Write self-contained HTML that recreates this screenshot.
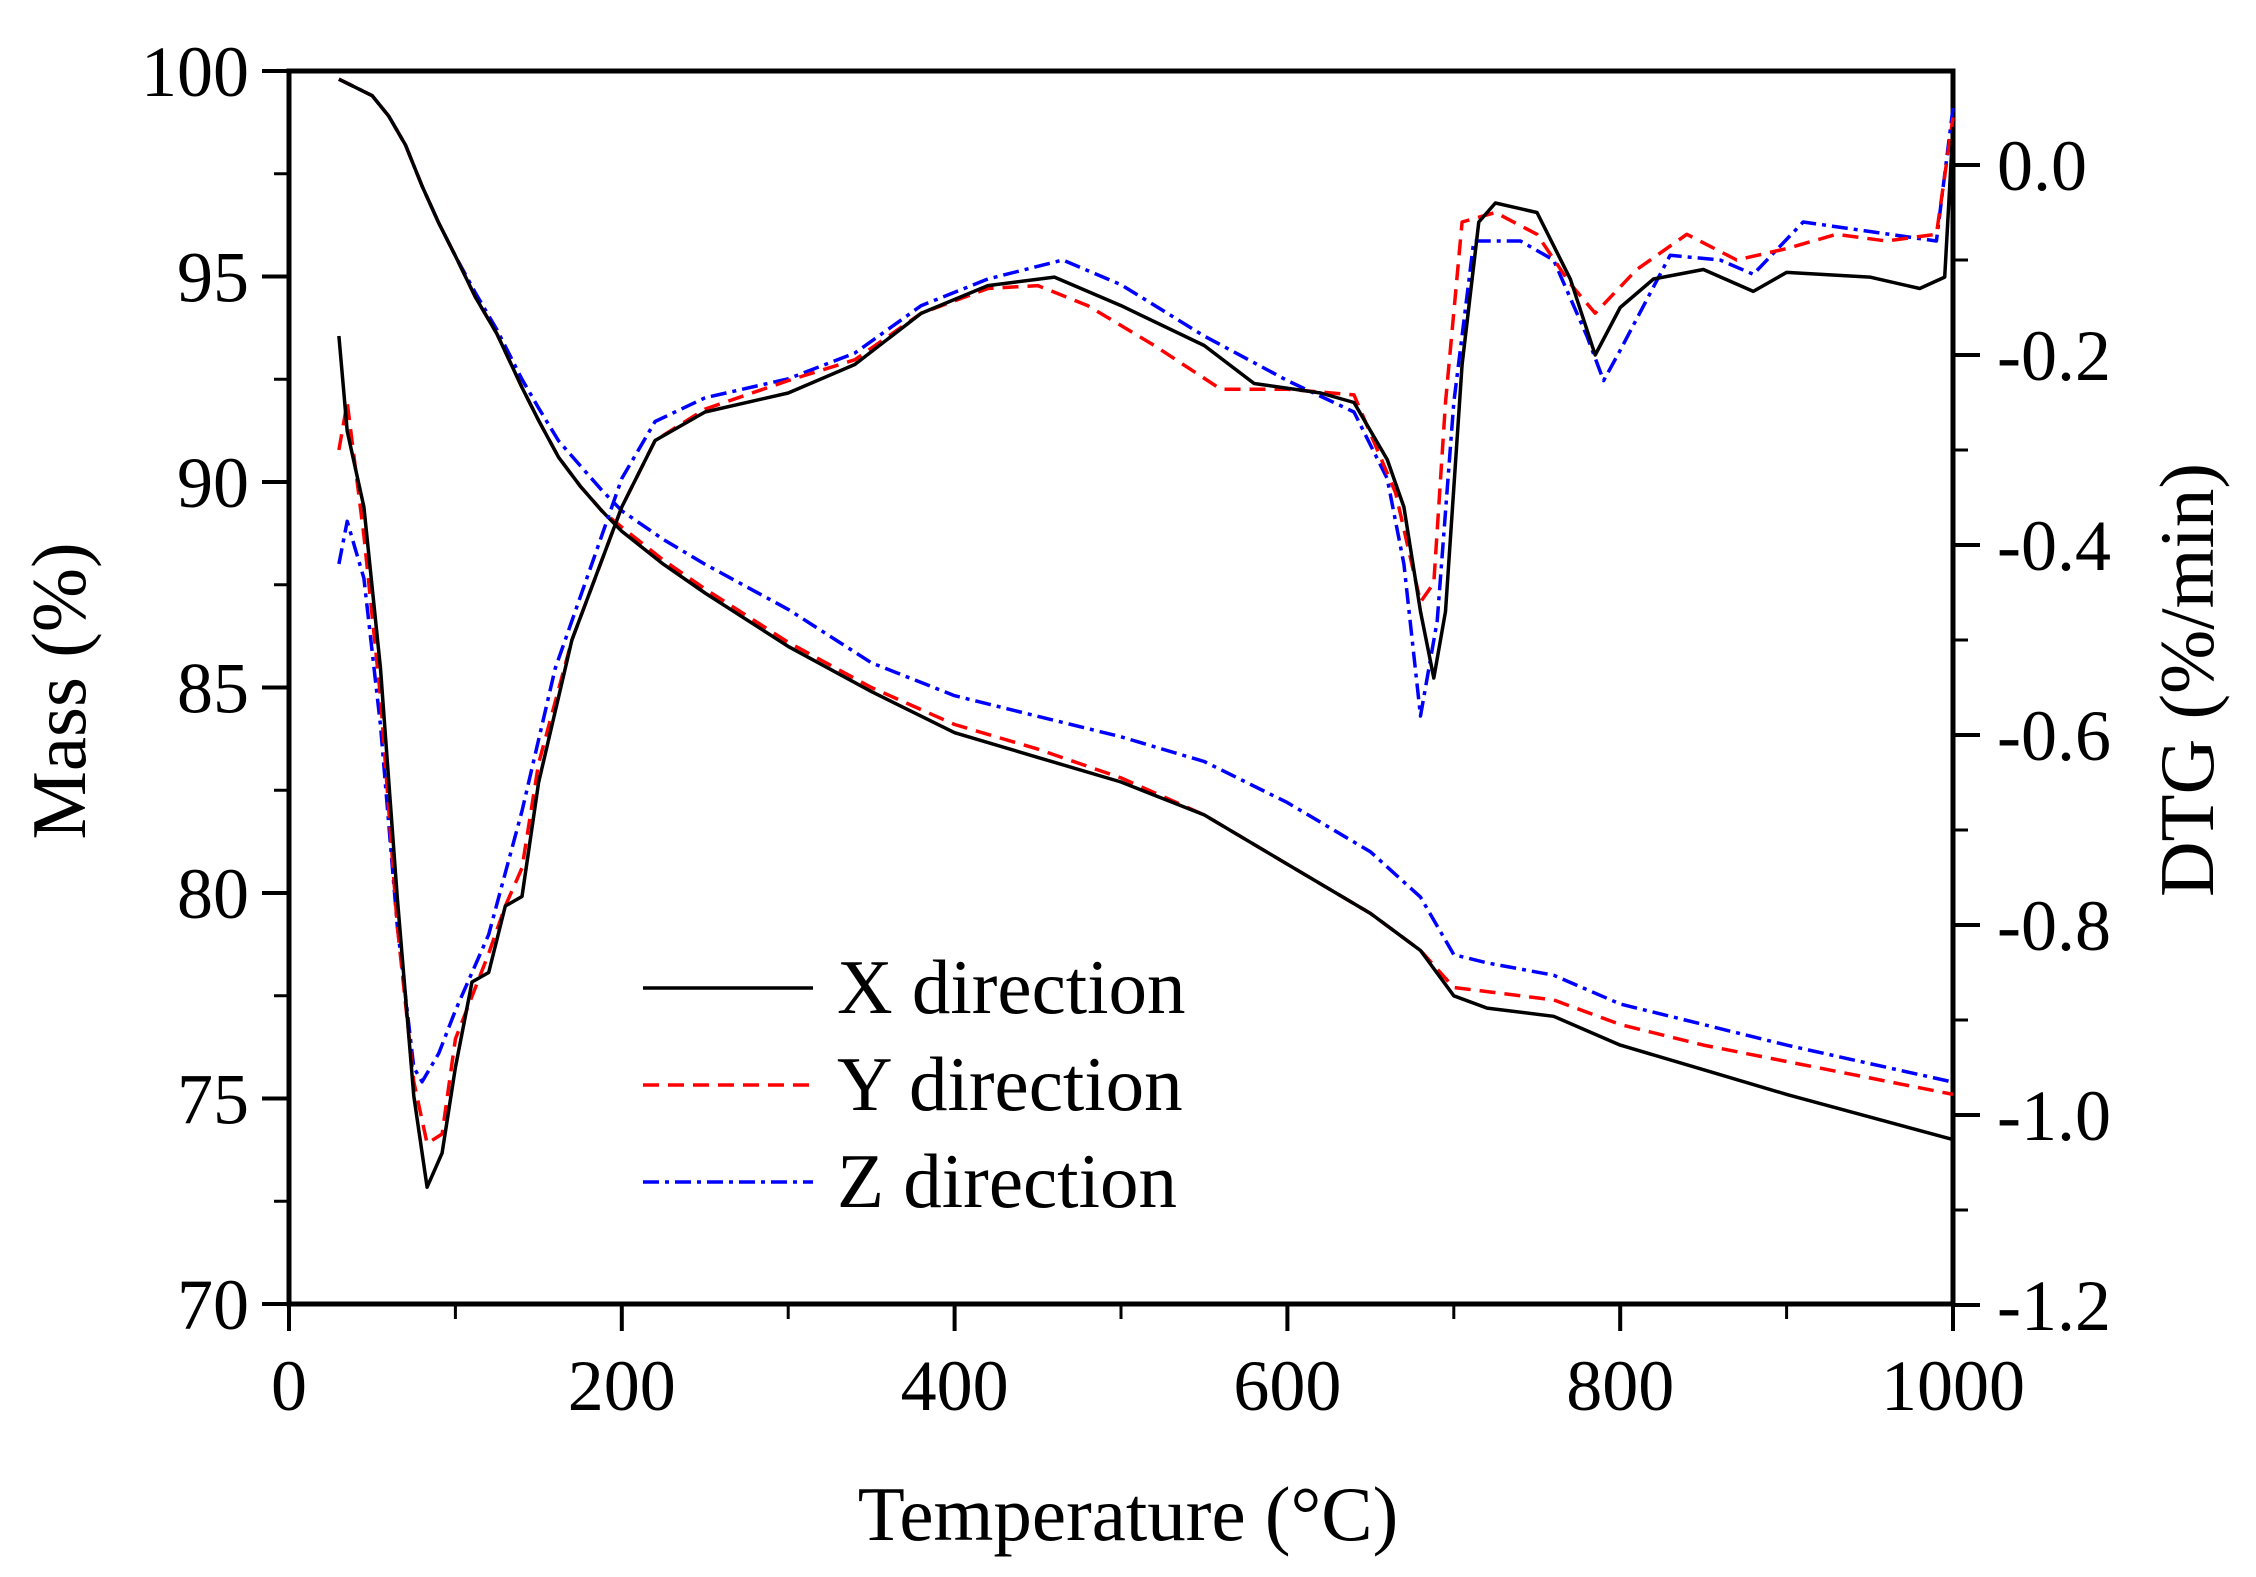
<!DOCTYPE html>
<html><head><meta charset="utf-8"><style>
html,body{margin:0;padding:0;background:#fff;}
svg{display:block;font-family:"Liberation Serif",serif;}
</style></head><body>
<svg id="chart" width="2256" height="1577" viewBox="0 0 2256 1577" xmlns="http://www.w3.org/2000/svg">
<g id="axes"></g>
<g id="series"></g>
<g id="legend">
  <line x1="643" y1="988" x2="813" y2="988" stroke="#000" stroke-width="3.5"/>
  <text x="837" y="1013" font-size="77">X direction</text>
  <line x1="643" y1="1085" x2="813" y2="1085" stroke="#f00" stroke-width="3.5" stroke-dasharray="16,9"/>
  <text x="837" y="1110" font-size="77">Y direction</text>
  <line x1="643" y1="1182" x2="813" y2="1182" stroke="#00f" stroke-width="3.5" stroke-dasharray="16,6,4,6"/>
  <text x="837" y="1207" font-size="77">Z direction</text>
</g>
<text x="1128" y="1540" font-size="77" text-anchor="middle">Temperature (°C)</text>
<text transform="translate(85,691) rotate(-90)" font-size="77" text-anchor="middle">Mass (%)</text>
<text transform="translate(2213,680) rotate(-90)" font-size="77" text-anchor="middle">DTG (%/min)</text>
</svg>
<script>
const xTicks=[0,200,400,600,800,1000];
const massTicks=[70,75,80,85,90,95,100];
const dtgTicks=[-1.2,-1.0,-0.8,-0.6,-0.4,-0.2,0.0];
const tempMass=[30,40,50,60,70,80,90,100,112,125,140,150,162,175,188,200,225,250,300,350,400,450,500,550,600,650,680,700,720,760,800,850,900,1000];
const massX=[99.8,99.6,99.4,98.9,98.2,97.2,96.3,95.5,94.5,93.6,92.3,91.5,90.6,89.9,89.3,88.8,88.0,87.3,86.0,84.9,83.9,83.3,82.7,81.9,80.7,79.5,78.6,77.5,77.2,77.0,76.3,75.7,75.1,74.0];
const massY=[99.8,99.6,99.4,98.9,98.2,97.2,96.3,95.5,94.5,93.6,92.3,91.5,90.6,89.9,89.3,88.9,88.1,87.4,86.1,85.0,84.1,83.5,82.8,81.9,80.7,79.5,78.6,77.7,77.6,77.4,76.8,76.3,75.9,75.1];
const massZ=[99.8,99.6,99.4,98.9,98.2,97.2,96.3,95.5,94.6,93.7,92.5,91.8,91.0,90.4,89.8,89.3,88.6,88.0,86.9,85.6,84.8,84.3,83.8,83.2,82.2,81.0,79.9,78.5,78.3,78.0,77.3,76.8,76.3,75.4];
const tempDtgX=[30,35,45,55,65,75,83,92,100,110,120,130,140,150,170,200,220,250,300,340,380,420,460,500,550,580,620,640,660,670,680,688,695,705,715,725,750,770,785,800,820,850,880,900,950,980,995,1000];
const dtgX=[-0.18,-0.28,-0.36,-0.53,-0.77,-0.98,-1.076,-1.04,-0.95,-0.86,-0.85,-0.78,-0.77,-0.65,-0.50,-0.36,-0.29,-0.26,-0.24,-0.21,-0.156,-0.127,-0.118,-0.148,-0.19,-0.23,-0.24,-0.25,-0.31,-0.36,-0.47,-0.54,-0.47,-0.21,-0.06,-0.04,-0.05,-0.12,-0.20,-0.15,-0.12,-0.11,-0.133,-0.113,-0.118,-0.13,-0.118,0.04];
const tempDtgY=[30,35,45,55,65,75,83,92,100,120,130,140,150,170,200,220,250,300,340,380,420,450,480,520,560,600,640,665,680,688,695,705,725,750,770,785,810,840,870,900,930,960,990,1000];
const dtgY=[-0.30,-0.25,-0.39,-0.56,-0.80,-0.965,-1.03,-1.02,-0.92,-0.83,-0.78,-0.74,-0.63,-0.50,-0.36,-0.29,-0.257,-0.227,-0.205,-0.156,-0.130,-0.127,-0.148,-0.19,-0.236,-0.236,-0.242,-0.345,-0.46,-0.44,-0.25,-0.06,-0.05,-0.073,-0.125,-0.156,-0.11,-0.073,-0.10,-0.088,-0.073,-0.080,-0.073,0.05];
const tempDtgZ=[30,35,45,55,65,75,80,90,100,120,140,160,200,220,250,300,340,380,420,465,500,550,600,640,660,670,680,690,700,712,740,760,780,790,800,830,860,880,910,950,990,1000];
const dtgZ=[-0.42,-0.375,-0.435,-0.59,-0.80,-0.95,-0.965,-0.935,-0.89,-0.81,-0.68,-0.53,-0.33,-0.27,-0.245,-0.225,-0.198,-0.148,-0.12,-0.10,-0.126,-0.18,-0.227,-0.26,-0.33,-0.42,-0.58,-0.48,-0.25,-0.08,-0.08,-0.10,-0.18,-0.227,-0.195,-0.095,-0.10,-0.115,-0.06,-0.07,-0.08,0.06];

const X0=289,X1=1953,YT=71,YB=1304;
const xs=v=>X0+(v/1000)*(X1-X0);
const ym=v=>YB-(v-70)/30*(YB-YT);
const yd=v=>165-v*950;
const NS='http://www.w3.org/2000/svg';
const axes=document.getElementById('axes'),series=document.getElementById('series');
function mk(tag,parent,attrs){const e=document.createElementNS(NS,tag);for(const k in attrs)e.setAttribute(k,attrs[k]);parent.appendChild(e);return e;}

const frame=mk('rect',axes,{x:X0,y:YT,width:X1-X0,height:YB-YT,fill:'none',stroke:'#000','stroke-width':5});



xTicks.forEach(v=>{
  const t=mk('line',axes,{x1:xs(v),x2:xs(v),y1:YB,y2:YB+27,stroke:'#000','stroke-width':4});
  
  
  const l=mk('text',axes,{x:xs(v),y:1410,'font-size':72,'text-anchor':'middle'});
  l.textContent=String(v);
  
  
});
for(let v=100;v<1000;v+=200){
  const t=mk('line',axes,{x1:xs(v),x2:xs(v),y1:YB,y2:YB+15,stroke:'#000','stroke-width':3});
  
  
}
massTicks.forEach(v=>{
  const t=mk('line',axes,{x1:X0-27,x2:X0,y1:ym(v),y2:ym(v),stroke:'#000','stroke-width':4});
  
  
  const l=mk('text',axes,{x:249,y:ym(v)+25,'font-size':72,'text-anchor':'end'});
  l.textContent=String(v);
  
  
});
for(let v=72.5;v<100;v+=5){
  const t=mk('line',axes,{x1:X0-15,x2:X0,y1:ym(v),y2:ym(v),stroke:'#000','stroke-width':3});
  
  
}
dtgTicks.forEach(v=>{
  const t=mk('line',axes,{x1:X1,x2:X1+27,y1:yd(v),y2:yd(v),stroke:'#000','stroke-width':4});
  
  
  const l=mk('text',axes,{x:1997,y:yd(v)+25,'font-size':72});
  l.textContent=v.toFixed(1);
  
  
});
for(let v=-1.1;v<0.05;v+=0.2){
  const t=mk('line',axes,{x1:X1,x2:X1+15,y1:yd(v),y2:yd(v),stroke:'#000','stroke-width':3});
  
  
}

function draw(tx,vals,yf,color,dash,name){
  const d=tx.map((t,i)=>(i?'L':'M')+xs(t).toFixed(1)+','+yf(vals[i]).toFixed(1)).join(' ');
  const p=mk('path',series,{d:d,fill:'none',stroke:color,'stroke-width':3.5,'stroke-linejoin':'round'});
  if(dash)p.setAttribute('stroke-dasharray',dash);
  
  
}
draw(tempMass,massZ,ym,'#00f','16,6,4,6','mass-z-line');
draw(tempMass,massY,ym,'#f00','16,9','mass-y-line');
draw(tempMass,massX,ym,'#000',null,'mass-x-line');
draw(tempDtgZ,dtgZ,yd,'#00f','16,6,4,6','dtg-z-line');
draw(tempDtgY,dtgY,yd,'#f00','16,9','dtg-y-line');
draw(tempDtgX,dtgX,yd,'#000',null,'dtg-x-line');
</script>
</body></html>
